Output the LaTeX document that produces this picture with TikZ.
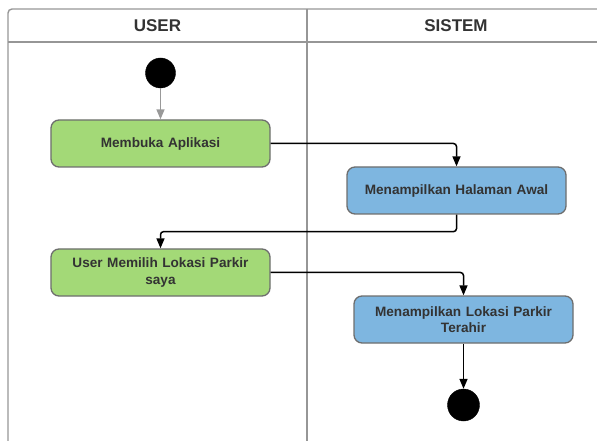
\documentclass[tikz,border=0pt]{standalone}
\usepackage{fontspec}
\setmainfont{Liberation Sans}
\usetikzlibrary{arrows.meta}
\definecolor{frameg}{RGB}{150,150,150}
\definecolor{boxborder}{RGB}{110,110,110}
\definecolor{actgreen}{RGB}{163,217,119}
\definecolor{actblue}{RGB}{126,182,224}
\definecolor{txt}{RGB}{51,51,51}
\tikzset{
  lane/.style={draw=frameg, line width=1.4bp},
  act/.style={draw=boxborder, line width=1.3bp, rounded corners=8bp,
    minimum width=219bp, minimum height=47bp, inner sep=2bp,
    text width=210bp, align=center, text=txt,
    font=\fontsize{13.6bp}{16.5bp}\selectfont\bfseries},
  greenact/.style={act, fill=actgreen},
  blueact/.style={act, fill=actblue},
  dot/.style={circle, fill=black, draw=black, inner sep=0pt},
  flow/.style={draw=black, line width=1.5bp, rounded corners=3bp,
    -{Triangle[length=10bp,width=8bp]}},
  head/.style={text=txt, font=\fontsize{17bp}{20bp}\selectfont\bfseries},
}
\begin{document}
\begin{tikzpicture}[x=1bp, y=-1bp]
\useasboundingbox (0,0) rectangle (597,441);
% swimlane frame
\draw[lane, rounded corners=4bp] (8,441) -- (8,9) -- (600,9);
\draw[lane] (8,42) -- (600,42);
\draw[lane] (307,9) -- (307,441);
\node[head] (hu) at (157.5,26) {USER};
\node[head] (hs) at (456,26) {SISTEM};
% nodes
\node[dot, minimum size=30bp] (start) at (160.5,73) {};
\node[greenact] (m) at (160.5,143.5) {Membuka Aplikasi};
\node[blueact] (h) at (456.5,190.5) {Menampilkan Halaman Awal};
\node[greenact] (u) at (160.5,272.5) {User Memilih Lokasi Parkir\\saya};
\node[blueact] (l) at (463.5,319.5) {Menampilkan Lokasi Parkir\\Terahir};
\node[dot, minimum size=32bp] (end) at (463.5,405) {};
% connectors
\draw[flow, draw=gray!80, -{Triangle[length=10bp,width=8bp,fill=gray!80]}] (start) -- (m.north);
\draw[flow] (m.east) -| (h.north);
\draw[flow] (h.south) -- ++(0,17) -| (u.north);
\draw[flow] (u.east) -| (l.north);
\draw[flow] (l.south) -- (end.north);
\end{tikzpicture}
\end{document}
